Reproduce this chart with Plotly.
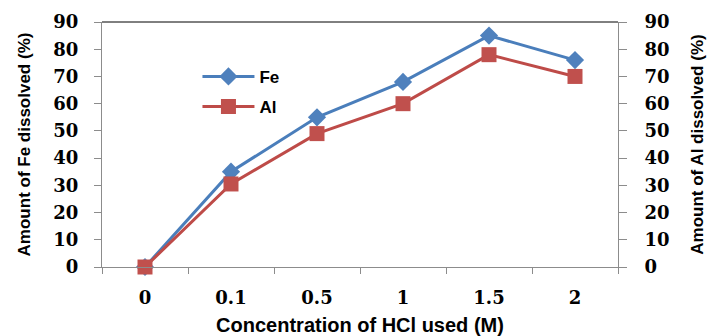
import plotly.graph_objects as go

# HCl concentrations (M) and dissolution results (%)
concentrations = ["0", "0.1", "0.5", "1", "1.5", "2"]
fe_dissolved = [0, 35, 55, 68, 85, 76]
al_dissolved = [0, 30.5, 49, 60, 78, 70]
y_ticks = [0, 10, 20, 30, 40, 50, 60, 70, 80, 90]

FE_COLOR = "#4A7EBB"
AL_COLOR = "#BE4B48"
AXIS_GRAY = "#8C8C8C"
TICK_FONT = dict(family="DejaVu Serif", size=18, color="black", weight="bold")
TITLE_FONT = dict(family="Liberation Sans", size=17, color="black", weight="bold")
LEGEND_FONT = dict(family="Liberation Sans", size=17, color="black", weight="bold")

fig = go.Figure()
fig.add_trace(go.Scatter(
    x=concentrations, y=fe_dissolved, name="Fe", mode="lines+markers",
    line=dict(color=FE_COLOR, width=3),
    marker=dict(symbol="diamond", size=14, color="#4F81BD"),
    cliponaxis=False, legend="legend", yaxis="y", showlegend=True,
))
fig.add_trace(go.Scatter(
    x=concentrations, y=al_dissolved, name="Al", mode="lines+markers",
    line=dict(color=AL_COLOR, width=3),
    marker=dict(symbol="square", size=15, color="#C0504D"),
    cliponaxis=False, legend="legend2", yaxis="y2", showlegend=True,
))

fig.update_layout(
    width=714, height=336,
    showlegend=True,
    margin=dict(l=102, r=96, t=22, b=69, autoexpand=False),
    plot_bgcolor="white", paper_bgcolor="white",
    xaxis=dict(
        type="category", range=[-0.5, 5.5], automargin=False,
        showline=True, linecolor=AXIS_GRAY, linewidth=1,
        ticks="outside", tickson="boundaries", ticklen=6, tickcolor=AXIS_GRAY,
        showgrid=False, zeroline=False,
        tickfont=TICK_FONT, ticklabelstandoff=14,
        title=dict(text="Concentration of HCl used (M)",
                   font=dict(family="Liberation Sans", size=20, color="black", weight="bold"),
                   standoff=12),
    ),
    yaxis=dict(
        range=[0, 90], tickvals=y_ticks, automargin=False,
        showline=True, linecolor=AXIS_GRAY, linewidth=1,
        ticks="outside", ticklen=7, tickcolor=AXIS_GRAY,
        showgrid=False, zeroline=False,
        tickfont=TICK_FONT, ticklabelstandoff=12,
        title=dict(text="Amount of Fe dissolved (%)", font=TITLE_FONT, standoff=18),
    ),
    yaxis2=dict(
        range=[0, 90], tickvals=y_ticks, overlaying="y", side="right", automargin=False,
        showline=True, linecolor=AXIS_GRAY, linewidth=1,
        ticks="outside", ticklen=8, tickcolor=AXIS_GRAY,
        showgrid=False, zeroline=False,
        tickfont=TICK_FONT, ticklabelstandoff=14,
        title=dict(text="Amount of Al dissolved (%)", font=TITLE_FONT, standoff=22),
    ),
    legend=dict(x=0.185, y=0.776, xanchor="left", yanchor="middle",
                font=LEGEND_FONT, bgcolor="rgba(0,0,0,0)", itemwidth=52),
    legend2=dict(x=0.185, y=0.653, xanchor="left", yanchor="middle",
                 font=LEGEND_FONT, bgcolor="rgba(0,0,0,0)", itemwidth=52),
    shapes=[dict(type="line", xref="paper", yref="paper", x0=0, x1=1, y0=1, y1=1,
                 line=dict(color="black", width=1))],
)

fig.write_html("out.html")
